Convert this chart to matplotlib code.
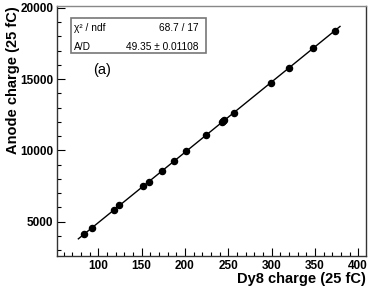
import matplotlib
matplotlib.use("Agg")
import matplotlib.pyplot as plt
import numpy as np
from matplotlib.patches import Rectangle
from matplotlib.ticker import MultipleLocator

# Data
dy8_charge = [83.8, 92.7, 117.8, 124.2, 151.9, 158.5, 173.8, 187.7, 201.2,
              224.6, 242.7, 244.0, 245.4, 256.6, 299.3, 320.4, 348.1, 373.1]
anode_charge = [4150, 4575, 5800, 6140, 7480, 7820, 8570, 9265, 9940,
                11070, 11980, 12040, 12110, 12650, 14770, 15810, 17170, 18410]
fit_slope = 49.35
fit_range = [77.0, 379.0]
stat_labels = ["χ² / ndf", "A/D"]
stat_values = ["68.7 / 17", "49.35 ± 0.01108"]
x_ticks = [100, 150, 200, 250, 300, 350, 400]
y_ticks = [5000, 10000, 15000, 20000]

fig = plt.figure(figsize=(3.74, 2.92), dpi=100)
ax = fig.add_axes([0.1516, 0.1216, 0.8270, 0.8579])

xf = np.linspace(fit_range[0], fit_range[1], 50)
ax.plot(xf, fit_slope * xf, color="black", lw=1.0, zorder=2)
ax.plot(dy8_charge, anode_charge, "o", color="black", ms=4.4, zorder=3)

ax.set_xlim(52, 409)
ax.set_ylim(2560, 20140)
ax.set_xticks(x_ticks)
ax.set_yticks(y_ticks)
ax.xaxis.set_minor_locator(MultipleLocator(10))
ax.yaxis.set_minor_locator(MultipleLocator(1000))

tick_font = dict(family="Liberation Sans", weight="bold", size=8.5)
ax.set_xticklabels([str(t) for t in x_ticks], fontdict=tick_font)
ax.set_yticklabels([str(t) for t in y_ticks], fontdict=tick_font)
ax.tick_params(which="both", direction="in", top=False, right=False, color="black", width=0.8)
ax.tick_params(which="major", length=6.0, pad=2.5)
ax.tick_params(which="minor", length=3.2)

for s in ["left", "bottom"]:
    ax.spines[s].set_color("#333333")
    ax.spines[s].set_linewidth(1.0)
ax.spines["top"].set_color("#888888")
ax.spines["right"].set_color("#333333")
ax.spines["top"].set_linewidth(1.0)
ax.spines["right"].set_linewidth(1.0)

lab_font = dict(family="Liberation Sans", weight="bold", size=10.5)
fig.text(0.978, 0.045, "Dy8 charge (25 fC)", ha="right", va="center", **lab_font)
fig.text(0.034, 0.979, "Anode charge (25 fC)", ha="center", va="top", rotation=90, **lab_font)

# Stats box
ax.add_patch(Rectangle((0.0453, 0.811), 0.4374, 0.140, transform=ax.transAxes,
                       facecolor="white", edgecolor="#777777", lw=1.2, zorder=4))
for lab, val, yy in zip(stat_labels, stat_values, [0.911, 0.8375]):
    ax.text(0.056, yy, lab, transform=ax.transAxes, ha="left", va="center",
            family="Liberation Sans", size=7.3, zorder=5)
    ax.text(0.460, yy, val, transform=ax.transAxes, ha="right", va="center",
            family="Liberation Sans", size=7.3, zorder=5)

ax.text(0.1465, 0.7445, "(a)", transform=ax.transAxes, ha="center", va="center",
        family="Liberation Sans", size=10.5)

fig.savefig("out.png", dpi=100)
